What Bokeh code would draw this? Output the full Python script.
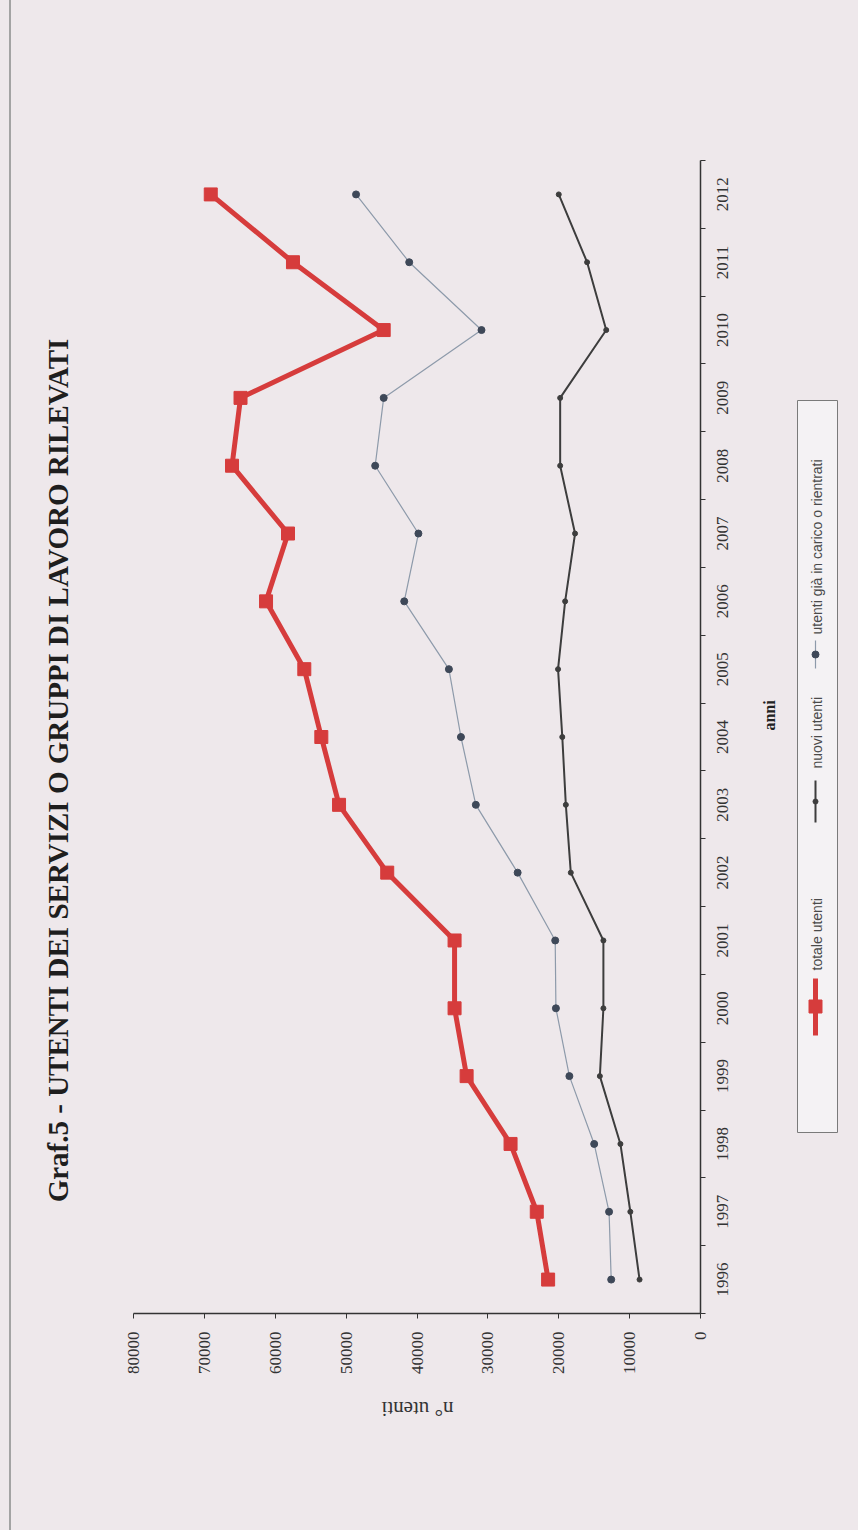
import math
from bokeh.plotting import figure
from bokeh.layouts import row, column
from bokeh.models import Range1d, FixedTicker
from bokeh.embed import file_html
from bokeh.resources import INLINE
from bokeh.core.properties import value

# ---------------- data ----------------
years = [1996, 1997, 1998, 1999, 2000, 2001, 2002, 2003, 2004,
         2005, 2006, 2007, 2008, 2009, 2010, 2011, 2012]
totale_utenti = [21500, 23100, 26800, 33000, 34700, 34700, 44200, 51000, 53500,
                 55900, 61300, 58200, 66100, 64900, 44700, 57500, 69100]
nuovi_utenti = [8600, 9900, 11300, 14200, 13700, 13700, 18300, 19000, 19500,
                20100, 19100, 17700, 19800, 19800, 13300, 16000, 20000]
utenti_gia = [12600, 12900, 15000, 18500, 20400, 20500, 25800, 31700, 33800,
              35500, 41800, 39800, 45900, 44700, 30900, 41100, 48600]
value_ticks = [0, 10000, 20000, 30000, 40000, 50000, 60000, 70000, 80000]
series_names = ["totale utenti", "nuovi utenti", "utenti già in carico o rientrati"]
title_text = "Graf.5 - UTENTI DEI SERVIZI O GRUPPI DI LAVORO RILEVATI"
x_label = "anni"
y_label = "n° utenti"

# ---------------- style / layout ----------------
BG = "#eee8eb"
RED = "#d63c3c"
DARK = "#3d3d3d"
BLUE_LINE = "#8d9aaa"
BLUE_DOT = "#3e4858"
AXIS = "#333333"
SERIF = value("Liberation Serif")

TOP_H = 1390          # height of the row holding the chart
BOT_H = 140           # strip under it
FRAME_TOP = 160       # page y of plot frame top
FRAME_BOT = 1313      # page y of plot frame bottom
X_LEFT, X_MAIN, X_RIGHT, X_END = 0, 118, 760, 858


def page_fig(x0, x1, y0, y1, height, top=0, bottom=0, transparent=False):
    f = figure(width=x1 - x0, height=height, x_range=Range1d(x0, x1),
               y_range=Range1d(y1, y0),
               min_border_left=0, min_border_right=0,
               min_border_top=top, min_border_bottom=bottom,
               x_axis_type=None, y_axis_type=None,
               output_backend="svg", toolbar_location=None)
    f.outline_line_color = None
    f.background_fill_color = BG
    f.border_fill_color = BG
    if transparent:
        f.background_fill_alpha = 0
        f.border_fill_alpha = 0
    return f


# ---------------- left strip: title ----------------
left = page_fig(X_LEFT, X_MAIN, FRAME_TOP, FRAME_BOT, TOP_H,
                top=FRAME_TOP, bottom=TOP_H - FRAME_BOT, transparent=True)
left.text(x=[57], y=[770], text=[title_text], angle=math.pi / 2,
          text_align="center", text_baseline="middle",
          text_font=SERIF, text_font_style="bold", text_font_size="29px",
          text_color="#1e1e1e")

# ---------------- main chart ----------------
p = figure(width=X_RIGHT - X_MAIN, height=TOP_H,
           x_range=Range1d(80000, 0), y_range=Range1d(1995.5, 2012.5),
           y_axis_location="right",
           min_border_left=15, min_border_right=60,
           min_border_top=FRAME_TOP, min_border_bottom=TOP_H - FRAME_BOT,
           output_backend="svg", toolbar_location=None)
p.background_fill_color = BG
p.border_fill_color = BG
p.outline_line_color = None
p.grid.visible = False

# value axis (bottom)
xa = p.xaxis[0]
xa.ticker = FixedTicker(ticks=value_ticks)
xa.major_label_orientation = math.pi / 2
xa.major_label_text_font = "Liberation Serif"
xa.major_label_text_font_size = "17px"
xa.major_label_text_color = AXIS
xa.major_tick_out = 5
xa.major_tick_in = 0
xa.minor_tick_out = 0
xa.minor_tick_in = 0
xa.major_label_standoff = 13
xa.axis_line_color = AXIS
xa.axis_line_width = 1.5
xa.major_tick_line_color = AXIS

# year axis (right): rotated labels start at the tick, so the label ticks
# sit a quarter year below each year to centre the text on it
ya = p.yaxis[0]
label_ticks = [y - 0.25 for y in years]
ya.ticker = FixedTicker(ticks=label_ticks,
                        minor_ticks=[y - 0.5 for y in years] + [years[-1] + 0.5])
ya.major_label_overrides = {t: str(y) for t, y in zip(label_ticks, years)}
ya.major_label_orientation = math.pi / 2
ya.major_label_text_font = "Liberation Serif"
ya.major_label_text_font_size = "17px"
ya.major_label_text_color = AXIS
ya.major_tick_out = 0
ya.major_tick_in = 0
ya.minor_tick_out = 5
ya.minor_tick_in = 0
ya.minor_tick_line_color = AXIS
ya.major_label_standoff = 17
ya.axis_line_color = AXIS
ya.axis_line_width = 1.5

# series
p.line(utenti_gia, years, line_color=BLUE_LINE, line_width=1.2)
p.scatter(utenti_gia, years, marker="circle", size=7, fill_color=BLUE_DOT, line_color=BLUE_DOT)
p.line(nuovi_utenti, years, line_color=DARK, line_width=2)
p.scatter(nuovi_utenti, years, marker="circle", size=5, fill_color=DARK, line_color=DARK)
p.line(totale_utenti, years, line_color=RED, line_width=5)
p.scatter(totale_utenti, years, marker="square", size=13, fill_color=RED, line_color=RED)

# ---------------- right strip: axis title + legend ----------------
right = page_fig(X_RIGHT, X_END, FRAME_TOP, FRAME_BOT, TOP_H,
                 top=FRAME_TOP, bottom=TOP_H - FRAME_BOT)
right.text(x=[769], y=[715], text=[x_label], angle=math.pi / 2,
           text_align="center", text_baseline="middle",
           text_font=SERIF, text_font_style="bold", text_font_size="16px",
           text_color="#222222")
right.quad(left=[797], right=[837], top=[400], bottom=[1132],
           fill_color="#f4f2f4", line_color="#7a7a7a", line_width=1)
lx = 815
right.line(x=[lx, lx], y=[978, 1035], line_color=RED, line_width=5)
right.scatter(x=[lx], y=[1006], marker="square", size=13, fill_color=RED, line_color=RED)
right.line(x=[lx, lx], y=[780, 822], line_color=DARK, line_width=2)
right.scatter(x=[lx], y=[801], marker="circle", size=5, fill_color=DARK, line_color=DARK)
right.line(x=[lx, lx], y=[640, 668], line_color=BLUE_LINE, line_width=1.2)
right.scatter(x=[lx], y=[654], marker="circle", size=7, fill_color=BLUE_DOT, line_color=BLUE_DOT)
right.text(x=[lx + 1, lx + 1, lx + 1], y=[970, 768, 634], text=series_names,
           angle=math.pi / 2, text_align="left", text_baseline="middle",
           text_font=value("Liberation Sans"), text_font_size="14px", text_color="#4a4a4a")

# ---------------- bottom strip: value-axis title ----------------
bottom = page_fig(X_LEFT, X_END, TOP_H, TOP_H + BOT_H, BOT_H, transparent=True)
bottom.text(x=[417], y=[1408], text=[y_label], angle=math.pi,
            text_align="center", text_baseline="middle",
            text_font=SERIF, text_font_size="21px", text_color=AXIS)

layout = column(row(left, p, right, spacing=0), bottom, spacing=0)
layout.styles = {"background": f"linear-gradient(to right, {BG} 9px, #a3a3a3 9px, "
                               f"#a3a3a3 11px, {BG} 11px)"}

open("out.html", "w").write(file_html(layout, INLINE))
